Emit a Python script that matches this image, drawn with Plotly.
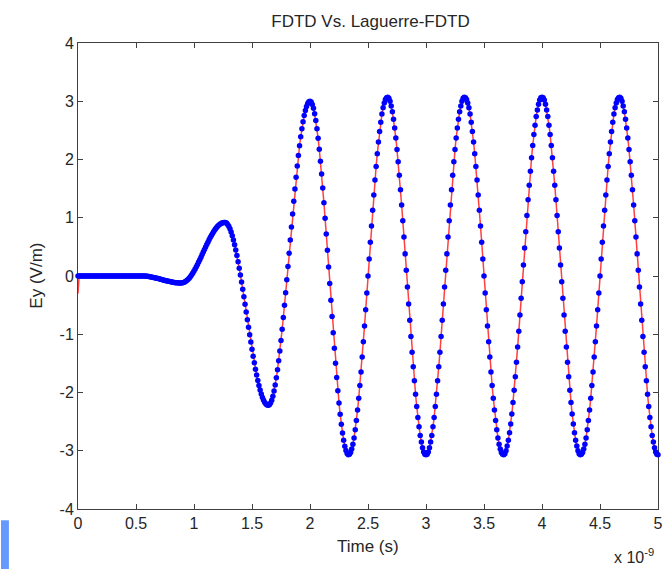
import plotly.graph_objects as go

# ---------------- data ----------------
chart_title = "FDTD Vs. Laguerre-FDTD"
x_label = "Time (s)"
y_label = "Ey (V/m)"
x_exponent_label = "x 10<sup>-9</sup>"

x_tick_vals = [0, 0.5, 1, 1.5, 2, 2.5, 3, 3.5, 4, 4.5, 5]
x_tick_text = ["0", "0.5", "1", "1.5", "2", "2.5", "3", "3.5", "4", "4.5", "5"]
y_tick_vals = [-4, -3, -2, -1, 0, 1, 2, 3, 4]
y_tick_text = ["-4", "-3", "-2", "-1", "0", "1", "2", "3", "4"]

# time axis in ns: samples every 0.01 ns starting at 0
t_start_ns = 0.0
t_step_ns = 0.01

# Ey samples (V/m), one list per nanosecond
ey_0to1ns = [
    0, 0, 0, 0, 0, 0, 0, 0, 0, 0,
    0, 0, 0, 0, 0, 0, 0, 0, 0, 0,
    0, 0, 0, 0, 0, 0, 0, 0, 0, 0,
    0, 0, 0, 0, 0, 0, 0, 0, 0, 0,
    0, 0, 0, 0, 0, 0, 0, 0, 0, 0,
    0, 0, 0, 0, 0, 0, 0.000, -0.001, -0.002, -0.004,
    -0.006, -0.009, -0.012, -0.016, -0.020, -0.024, -0.028, -0.033, -0.038, -0.044,
    -0.049, -0.055, -0.060, -0.066, -0.071, -0.076, -0.082, -0.087, -0.092, -0.096,
    -0.100, -0.104, -0.108, -0.111, -0.114, -0.116, -0.118, -0.119, -0.120, -0.120,
    -0.118, -0.113, -0.104, -0.091, -0.075, -0.056, -0.033, -0.008, 0.021, 0.052,
]
ey_1to2ns = [
    0.086, 0.121, 0.159, 0.198, 0.239, 0.281, 0.324, 0.367, 0.411, 0.454,
    0.497, 0.540, 0.581, 0.621, 0.660, 0.697, 0.731, 0.764, 0.794, 0.821,
    0.845, 0.866, 0.883, 0.898, 0.909, 0.916, 0.920, 0.919, 0.908, 0.886,
    0.853, 0.810, 0.756, 0.693, 0.620, 0.538, 0.448, 0.351, 0.246, 0.135,
    0.018, -0.103, -0.228, -0.356, -0.486, -0.617, -0.749, -0.879, -1.009, -1.135,
    -1.258, -1.377, -1.491, -1.599, -1.701, -1.794, -1.880, -1.958, -2.026, -2.084,
    -2.133, -2.171, -2.198, -2.214, -2.220, -2.210, -2.180, -2.131, -2.063, -1.976,
    -1.870, -1.748, -1.609, -1.456, -1.288, -1.107, -0.915, -0.713, -0.503, -0.286,
    -0.063, 0.163, 0.390, 0.618, 0.843, 1.066, 1.283, 1.493, 1.695, 1.887,
    2.068, 2.236, 2.389, 2.528, 2.650, 2.755, 2.843, 2.911, 2.960, 2.990,
]
ey_2to3ns = [
    3.000, 2.987, 2.946, 2.879, 2.787, 2.669, 2.528, 2.363, 2.177, 1.972,
    1.749, 1.510, 1.257, 0.993, 0.720, 0.440, 0.156, -0.130, -0.415, -0.697,
    -0.973, -1.240, -1.497, -1.741, -1.970, -2.181, -2.374, -2.545, -2.695, -2.820,
    -2.922, -2.997, -3.046, -3.069, -3.06, -3.03, -2.97, -2.89, -2.78, -2.64,
    -2.48, -2.30, -2.10, -1.88, -1.65, -1.39, -1.13, -0.86, -0.58, -0.29,
    0.00, 0.29, 0.58, 0.86, 1.13, 1.39, 1.65, 1.88, 2.10, 2.30,
    2.48, 2.64, 2.78, 2.89, 2.97, 3.03, 3.06, 3.07, 3.05, 3.00,
    2.92, 2.82, 2.69, 2.54, 2.37, 2.17, 1.96, 1.73, 1.48, 1.22,
    0.95, 0.67, 0.38, 0.10, -0.19, -0.48, -0.76, -1.04, -1.31, -1.56,
    -1.80, -2.03, -2.24, -2.43, -2.59, -2.74, -2.85, -2.95, -3.02, -3.06,
]
ey_3to4ns = [
    -3.07, -3.06, -3.02, -2.95, -2.85, -2.74, -2.59, -2.43, -2.24, -2.03,
    -1.80, -1.56, -1.31, -1.04, -0.76, -0.48, -0.19, 0.10, 0.38, 0.67,
    0.95, 1.22, 1.48, 1.73, 1.96, 2.17, 2.37, 2.54, 2.69, 2.82,
    2.92, 3.00, 3.05, 3.07, 3.06, 3.03, 2.97, 2.89, 2.78, 2.64,
    2.48, 2.30, 2.10, 1.88, 1.65, 1.39, 1.13, 0.86, 0.58, 0.29,
    0.00, -0.29, -0.58, -0.86, -1.13, -1.39, -1.65, -1.88, -2.10, -2.30,
    -2.48, -2.64, -2.78, -2.89, -2.97, -3.03, -3.06, -3.07, -3.05, -3.00,
    -2.92, -2.82, -2.69, -2.54, -2.37, -2.17, -1.96, -1.73, -1.48, -1.22,
    -0.95, -0.67, -0.38, -0.10, 0.19, 0.48, 0.76, 1.04, 1.31, 1.56,
    1.80, 2.03, 2.24, 2.43, 2.59, 2.74, 2.85, 2.95, 3.02, 3.06,
]
ey_4to5ns = [
    3.07, 3.06, 3.02, 2.95, 2.85, 2.74, 2.59, 2.43, 2.24, 2.03,
    1.80, 1.56, 1.31, 1.04, 0.76, 0.48, 0.19, -0.10, -0.38, -0.67,
    -0.95, -1.22, -1.48, -1.73, -1.96, -2.17, -2.37, -2.54, -2.69, -2.82,
    -2.92, -3.00, -3.05, -3.07, -3.06, -3.03, -2.97, -2.89, -2.78, -2.64,
    -2.48, -2.30, -2.10, -1.88, -1.65, -1.39, -1.13, -0.86, -0.58, -0.29,
    0.00, 0.29, 0.58, 0.86, 1.13, 1.39, 1.65, 1.88, 2.10, 2.30,
    2.48, 2.64, 2.78, 2.89, 2.97, 3.03, 3.06, 3.07, 3.05, 3.00,
    2.92, 2.82, 2.69, 2.54, 2.37, 2.17, 1.96, 1.73, 1.48, 1.22,
    0.95, 0.67, 0.38, 0.10, -0.19, -0.48, -0.76, -1.04, -1.31, -1.56,
    -1.80, -2.03, -2.24, -2.43, -2.59, -2.74, -2.85, -2.95, -3.02, -3.06,
    -3.07,
]

# Laguerre-FDTD (blue dots) and FDTD (red line); the FDTD line's first sample sits at -0.3
ey_laguerre = ey_0to1ns + ey_1to2ns + ey_2to3ns + ey_3to4ns + ey_4to5ns
fdtd_first_sample = -0.3
ey_fdtd = [fdtd_first_sample] + ey_laguerre[1:]

# ---------------- figure ----------------
FONT = "Liberation Sans, Arial, Helvetica, sans-serif"
TXT = "#262626"
AX = "#404040"

fig = go.Figure()
fig.add_trace(go.Scatter(
    y=ey_fdtd, x0=t_start_ns, dx=t_step_ns, mode="lines",
    line=dict(color="#ff4040", width=1.5), cliponaxis=False,
    name="FDTD", hoverinfo="skip",
))
fig.add_trace(go.Scatter(
    y=ey_laguerre, x0=t_start_ns, dx=t_step_ns, mode="markers",
    marker=dict(color="#0000ff", size=5.5, line=dict(width=0)), cliponaxis=False,
    name="Laguerre-FDTD",
))

axis_common = dict(
    showgrid=False, zeroline=False, showline=True, linecolor=AX, linewidth=1,
    mirror="ticks", ticks="inside", ticklen=5, tickcolor=AX, tickwidth=1,
    tickfont=dict(family=FONT, size=16, color=TXT), layer="below traces",
    ticklabeloverflow="allow",
)

fig.update_layout(
    width=667, height=569,
    margin=dict(l=78, r=4, t=43, b=60),
    paper_bgcolor="white", plot_bgcolor="white",
    showlegend=False,
    title=dict(text=chart_title, x=(78 + 663) / 2 / 667, xanchor="center",
               y=1 - 21 / 569, yanchor="middle", yref="container",
               font=dict(family=FONT, size=17, color=TXT)),
    xaxis=dict(range=[0, 5], tickmode="array", tickvals=x_tick_vals,
               ticktext=x_tick_text, **axis_common),
    yaxis=dict(range=[-4, 4], tickmode="array", tickvals=y_tick_vals,
               ticktext=y_tick_text, **axis_common),
    annotations=[
        dict(text=y_label, textangle=-90, xref="paper", yref="paper",
             x=-0.073, y=0.5, xanchor="center", yanchor="middle", showarrow=False,
             font=dict(family=FONT, size=17, color=TXT)),
        dict(text=x_label, xref="paper", yref="paper",
             x=0.5, y=-0.080, xanchor="center", yanchor="middle", showarrow=False,
             font=dict(family=FONT, size=17, color=TXT)),
        dict(text=x_exponent_label, xref="paper", yref="paper",
             x=0.9966, y=-0.100, xanchor="right", yanchor="middle", showarrow=False,
             font=dict(family=FONT, size=16, color=TXT)),
    ],
    shapes=[
        dict(type="rect", xref="paper", yref="paper",
             x0=-0.1328, x1=-0.1191, y0=-0.1294, y1=-0.0242,
             fillcolor="#6699ff", line=dict(width=0), layer="above"),
    ],
)

# remove the page's default body margin so the figure sits at the window's corner
fig.write_html(
    "out.html",
    config={"displayModeBar": False},
    post_script="document.body.style.margin='0';document.body.style.overflow='hidden';",
)
